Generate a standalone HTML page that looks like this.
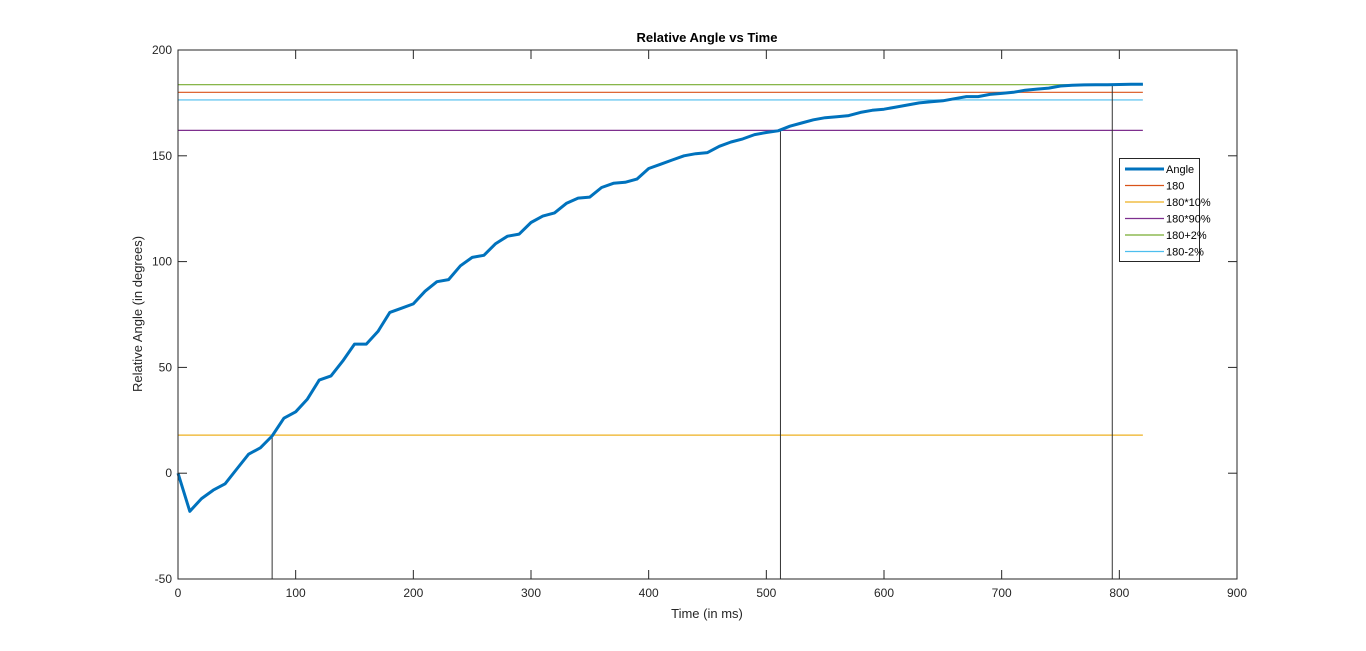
<!DOCTYPE html>
<html><head><meta charset="utf-8"><style>
body{margin:0;background:#fff;}
svg{display:block;font-family:"Liberation Sans",Arial,sans-serif;}
</style></head><body>
<svg id="chart" width="1366" height="651" viewBox="0 0 1366 651">
<rect x="0" y="0" width="1366" height="651" fill="#fff"/>
<g id="plot"></g>
</svg>
<script>
const times = [0,10,20,30,40,50,60,70,80,90,100,110,120,130,140,150,160,170,180,190,200,210,220,230,240,250,260,270,280,290,300,310,320,330,340,350,360,370,380,390,400,410,420,430,440,450,460,470,480,490,500,510,520,530,540,550,560,570,580,590,600,610,620,630,640,650,660,670,680,690,700,710,720,730,740,750,760,770,780,790,800,810,820];
const angles = [0,-18,-12,-8,-5,2,9,12,17.6,26,29,35,44,46,53,61,61,67,76,78,80,86,90.5,91.5,98,102,103,108.5,112,113,118.5,121.5,123,127.5,130,130.5,135,137,137.5,139,144,146,148,150,151,151.5,154.5,156.5,158,160,161,161.8,164,165.5,167,168,168.5,169,170.5,171.5,172,173,174,175,175.5,176,177,178,178,179,179.5,180,181,181.5,182,183,183.3,183.5,183.6,183.6,183.7,183.8,183.8];
const refNames = ["180","180*10%","180*90%","180+2%","180-2%"];
const refValues = [180,18,162,183.6,176.4];
const refColors = ["#d95319","#edb120","#7e2f8e","#77ac30","#4dbeee"];
const crossTimes = [80,512,794];
const crossValues = [17.6,162,183.6];
const xTicks = [0,100,200,300,400,500,600,700,800,900];
const yTicks = [-50,0,50,100,150,200];

const L=178,R=1237,T=50,B=579;
const X=v=>L+(v-0)/900*(R-L);
const Y=v=>B-(v+50)/250*(B-T);
const g=document.getElementById('plot');
const NS='http://www.w3.org/2000/svg';
function mk(tag,attrs,parent){const e=document.createElementNS(NS,tag);for(const k in attrs)e.setAttribute(k,attrs[k]);(parent||g).appendChild(e);return e;}

// ref lines
refValues.forEach((v,i)=>{
  const l=mk('line',{x1:X(0),x2:X(820),y1:Y(v),y2:Y(v),stroke:refColors[i],'stroke-width':1.2});
  
  
});
// vertical crossing lines
crossTimes.forEach((t,i)=>{
  const l=mk('line',{x1:X(t),x2:X(t),y1:Y(-50),y2:Y(crossValues[i]),stroke:'#333','stroke-width':1});
  
  
});
// angle line
const pts=times.map((t,i)=>X(t).toFixed(1)+','+Y(angles[i]).toFixed(1)).join(' ');
const pl=mk('polyline',{points:pts,fill:'none',stroke:'#0072bd','stroke-width':3,'stroke-linejoin':'round'});



// axes box
const box=mk('rect',{x:L,y:T,width:R-L,height:B-T,fill:'none',stroke:'#262626','stroke-width':1});


xTicks.forEach(v=>{
  mk('line',{x1:X(v),x2:X(v),y1:B,y2:B-9,stroke:'#262626'});
  mk('line',{x1:X(v),x2:X(v),y1:T,y2:T+9,stroke:'#262626'});
  const t=mk('text',{x:X(v),y:B+18,'text-anchor':'middle','font-size':12,fill:'#262626'});
  t.textContent=v;
  
  
});
yTicks.forEach(v=>{
  mk('line',{x1:L,x2:L+9,y1:Y(v),y2:Y(v),stroke:'#262626'});
  mk('line',{x1:R,x2:R-9,y1:Y(v),y2:Y(v),stroke:'#262626'});
  const t=mk('text',{x:L-6,y:Y(v)+4,'text-anchor':'end','font-size':12,fill:'#262626'});
  t.textContent=v;
  
  
});
const title=mk('text',{x:707,y:42,'text-anchor':'middle','font-size':13,'font-weight':'bold',fill:'#000'});
title.textContent='Relative Angle vs Time';


const xt=mk('text',{x:707,y:618,'text-anchor':'middle','font-size':13,fill:'#262626'});
xt.textContent='Time (in ms)';


const yt=mk('text',{x:0,y:0,'text-anchor':'middle','font-size':13,fill:'#262626',transform:'translate(142,314) rotate(-90)'});
yt.textContent='Relative Angle (in degrees)';



// legend
const lg=mk('g',{});


mk('rect',{x:1119.5,y:158.5,width:80,height:103,fill:'#fff',stroke:'#262626','stroke-width':1},lg);
const names=['Angle'].concat(refNames), cols=['#0072bd'].concat(refColors);
names.forEach((n,i)=>{
  const y=169+i*16.5;
  const e=mk('g',{},lg);
  
  
  mk('line',{x1:1125,x2:1164,y1:y,y2:y,stroke:cols[i],'stroke-width':i?1.2:3},e);
  const t=mk('text',{x:1166,y:y+4,'font-size':11,fill:'#000'},e);
  t.textContent=n;
});
</script>
</body></html>
